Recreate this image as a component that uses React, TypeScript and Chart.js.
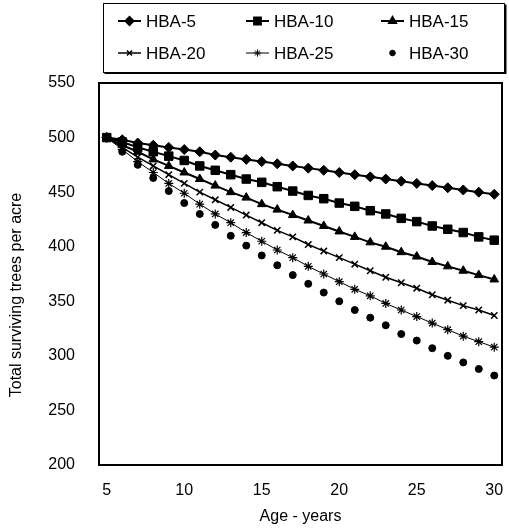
import React, { useEffect, useRef } from 'react';
import { Chart, registerables } from 'chart.js';
import { drawPoint } from 'chart.js/helpers';

Chart.register(...registerables);

const ages = [5, 6, 7, 8, 9, 10, 11, 12, 13, 14, 15, 16, 17, 18, 19, 20, 21, 22, 23, 24, 25, 26, 27, 28, 29, 30];
const xTickLabels = [5, 10, 15, 20, 25, 30];
const yMin = 200;
const yMax = 550;
const yStep = 50;

const hba5 = [500, 498, 495, 493, 491, 489, 487, 484, 482, 480, 478, 476, 474, 472, 470, 468, 466, 464, 462, 460, 458, 456, 454, 452, 450, 448];
const hba10 = [500, 496, 491, 487, 483, 479, 474, 470, 466, 462, 459, 455, 451, 447, 444, 440, 437, 433, 430, 426, 423, 419, 416, 413, 409, 406];
const hba15 = [500, 493, 487, 480, 474, 468, 462, 456, 450, 445, 439, 434, 429, 424, 419, 414, 409, 404, 400, 395, 391, 386, 382, 378, 374, 370];
const hba20 = [500, 491, 482, 474, 466, 458, 450, 443, 436, 429, 422, 415, 409, 402, 396, 390, 384, 378, 372, 367, 362, 356, 351, 346, 342, 337];
const hba25 = [500, 489, 478, 468, 458, 449, 439, 430, 422, 413, 405, 397, 390, 382, 375, 368, 361, 355, 348, 342, 336, 330, 324, 318, 313, 308];
const hba30 = [500, 487, 475, 463, 451, 440, 430, 420, 410, 401, 392, 383, 374, 366, 358, 350, 342, 335, 328, 320, 314, 307, 300, 294, 288, 282];

const seriesLabels = ['HBA-5', 'HBA-10', 'HBA-15', 'HBA-20', 'HBA-25', 'HBA-30'];
const seriesData = [hba5, hba10, hba15, hba20, hba25, hba30];

const xTitle = 'Age - years';
const yTitle = 'Total surviving trees per acre';

const FONT = '"Liberation Sans", Arial, sans-serif';

const styles = [
  { pointStyle: 'rectRot', pointRadius: 5, borderWidth: 2, pointBorderWidth: 1, showLine: true },
  { pointStyle: 'rect', pointRadius: 6, borderWidth: 2, pointBorderWidth: 1, showLine: true },
  { pointStyle: 'triangle', pointRadius: 5, borderWidth: 2, pointBorderWidth: 1, showLine: true },
  { pointStyle: 'crossRot', pointRadius: 4.5, borderWidth: 1.5, pointBorderWidth: 1.5, showLine: true },
  { pointStyle: 'star', pointRadius: 4.5, borderWidth: 1, pointBorderWidth: 1.2, showLine: true },
  { pointStyle: 'circle', pointRadius: 3.5, borderWidth: 1, pointBorderWidth: 1, showLine: false },
];

const frameAndLegend = {
  id: 'frameAndLegend',
  afterDraw(chart: any) {
    const { ctx, chartArea } = chart;
    ctx.save();
    // plot frame
    ctx.strokeStyle = '#000';
    ctx.lineWidth = 2;
    ctx.strokeRect(chartArea.left, chartArea.top, chartArea.right - chartArea.left, chartArea.bottom - chartArea.top);

    // legend box
    const bx = 103.5, by = 3.5, bw = 401, bh = 69;
    ctx.lineWidth = 1;
    ctx.strokeRect(bx, by, bw, bh);
    ctx.lineWidth = 2;
    ctx.beginPath();
    ctx.moveTo(bx + 1, by + bh + 0.5);
    ctx.lineTo(bx + bw + 1, by + bh + 0.5);
    ctx.lineTo(bx + bw + 1, by + 1);
    ctx.stroke();

    const colX = [118, 246, 381];
    const rowY = [21, 53];
    ctx.font = '17px ' + FONT;
    ctx.textBaseline = 'middle';
    ctx.textAlign = 'left';
    ctx.fillStyle = '#000';
    chart.data.datasets.forEach((ds: any, i: number) => {
      const cx = colX[i % 3];
      const cy = rowY[Math.floor(i / 3)];
      const segW = 23;
      if (ds.showLine !== false) {
        ctx.strokeStyle = '#000';
        ctx.lineWidth = ds.borderWidth;
        ctx.beginPath();
        ctx.moveTo(cx, cy);
        ctx.lineTo(cx + segW, cy);
        ctx.stroke();
      }
      ctx.fillStyle = '#000';
      ctx.strokeStyle = '#000';
      drawPoint(ctx, {
        pointStyle: ds.pointStyle,
        radius: ds.pointRadius * 0.8,
        rotation: 0,
        borderWidth: ds.pointBorderWidth,
      } as any, cx + segW / 2, cy);
      ctx.fillStyle = '#000';
      ctx.fillText(ds.label, cx + segW + 5, cy + 1);
    });

    ctx.textAlign = 'center';
    ctx.textBaseline = 'middle';
    ctx.font = '16px ' + FONT;
    // x axis title
    ctx.fillText(xTitle, (chartArea.left + chartArea.right) / 2, 517);
    // y axis title
    ctx.save();
    ctx.translate(17, 295);
    ctx.rotate(-Math.PI / 2);
    ctx.fillText(yTitle, 0, 0);
    ctx.restore();

    ctx.restore();
  },
};

export default function App() {
  const ref = useRef<HTMLCanvasElement | null>(null);
  useEffect(() => {
    if (!ref.current) return;
    const chart = new Chart(ref.current, {
      type: 'line',
      data: {
        labels: ages.map(String),
        datasets: seriesLabels.map((label, i) => ({
          label,
          data: seriesData[i],
          borderColor: '#000',
          backgroundColor: '#000',
          pointBackgroundColor: '#000',
          pointBorderColor: '#000',
          tension: 0,
          ...styles[i],
        })) as any,
      },
      options: {
        responsive: false,
        animation: false,
        events: [],
        layout: { padding: { left: 48, top: 83, right: 4, bottom: 16 } },
        plugins: { legend: { display: false }, tooltip: { enabled: false } },
        scales: {
          x: {
            type: 'category',
            offset: true,
            grid: { display: false, drawTicks: false },
            border: { display: false },
            afterFit: (scale: any) => {
              scale.height = 48;
              scale.paddingLeft = 0;
              scale.paddingRight = 0;
            },
            ticks: {
              autoSkip: false,
              maxRotation: 0,
              padding: 16,
              color: '#000',
              font: { family: FONT, size: 16 },
              callback: (_v: any, i: number) => (xTickLabels.includes(ages[i]) ? String(ages[i]) : ''),
            },
          },
          y: {
            min: yMin,
            max: yMax,
            grid: { display: false, drawTicks: false },
            border: { display: false },
            afterFit: (scale: any) => {
              scale.width = 51;
              scale.paddingTop = 0;
              scale.paddingBottom = 0;
            },
            ticks: {
              stepSize: yStep,
              padding: 24,
              color: '#000',
              font: { family: FONT, size: 16 },
            },
          },
        },
      },
      plugins: [frameAndLegend],
    });
    return () => chart.destroy();
  }, []);
  return (
    <div style={{ position: 'fixed', left: 0, top: 0, width: 509, height: 529, background: '#fff' }}>
      <canvas ref={ref} width={509} height={529} style={{ display: 'block' }} />
    </div>
  );
}
